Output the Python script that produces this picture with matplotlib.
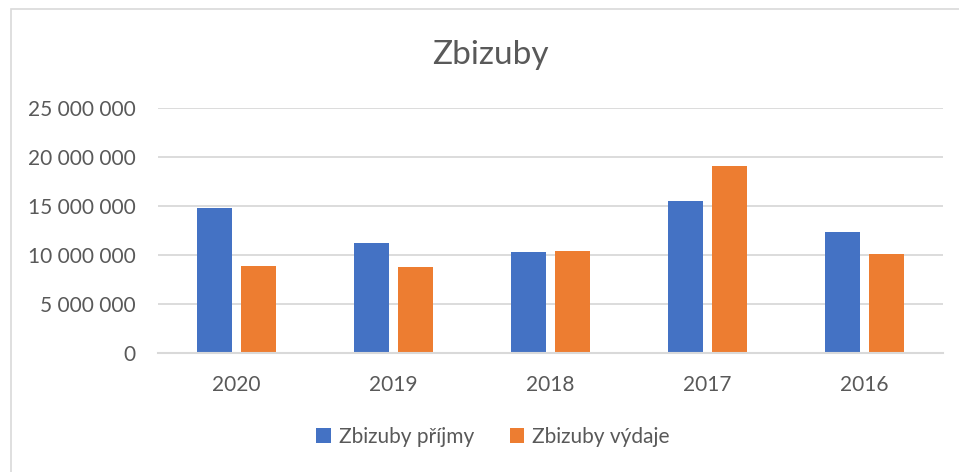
import matplotlib.pyplot as plt
import matplotlib.patches as mpatches
import numpy as np
from matplotlib.ticker import FuncFormatter

years = ["2020", "2019", "2018", "2017", "2016"]
prijmy = [14800000, 11260000, 10310000, 15540000, 12380000]
vydaje = [8880000, 8780000, 10370000, 19120000, 10100000]
series_names = ["Zbizuby příjmy", "Zbizuby výdaje"]

blue = "#4472C4"
orange = "#ED7D31"
text_color = "#595959"
grid_color = "#D9D9D9"

plt.rcParams['font.family'] = ['Lato', 'DejaVu Sans']

fig = plt.figure(figsize=(9.59, 4.72), dpi=100)
ax = fig.add_axes([158 / 959, 1 - 353 / 472, 785 / 959, 245 / 472])

# chart border (only left and top visible in the screenshot)
fig.patches.append(mpatches.Rectangle((11 / 959, -0.1), 1.2, 1 - 9 / 472 + 0.1,
                                      transform=fig.transFigure, fill=False,
                                      edgecolor=grid_color, linewidth=1.2))

x = np.arange(len(years))
w = 0.223
off = 0.143
ax.bar(x - off, prijmy, w, color=blue, label=series_names[0], zorder=3)
ax.bar(x + off, vydaje, w, color=orange, label=series_names[1], zorder=3)

ax.set_xlim(-0.5, len(years) - 0.5)
ax.set_ylim(0, 25000000)
ax.set_yticks(np.arange(0, 25000001, 5000000))
ax.yaxis.set_major_formatter(FuncFormatter(lambda v, p: f"{int(v):,}".replace(",", " ")))
ax.set_xticks(x)
ax.set_xticklabels(years)

ax.grid(axis="y", color=grid_color, linewidth=1.3, zorder=0)
for s in ["top", "right", "left"]:
    ax.spines[s].set_visible(False)
ax.spines["bottom"].set_color(grid_color)
ax.spines["bottom"].set_linewidth(1.5)
ax.spines["bottom"].set_zorder(4)

ax.tick_params(axis="both", length=0, labelsize=15, labelcolor=text_color)
ax.tick_params(axis="x", pad=16)
ax.tick_params(axis="y", pad=16)

fig.text(490 / 959, 1 - 55 / 472, "Zbizuby", ha="center", va="center",
         fontsize=24, color=text_color)

fig.legend(loc="center", bbox_to_anchor=(493 / 959, 1 - 437 / 472), ncol=2,
           frameon=False, fontsize=15, labelcolor=text_color,
           handlelength=0.7, handleheight=0.7, handletextpad=0.4,
           columnspacing=1.7)

fig.savefig("out.png", dpi=100)
